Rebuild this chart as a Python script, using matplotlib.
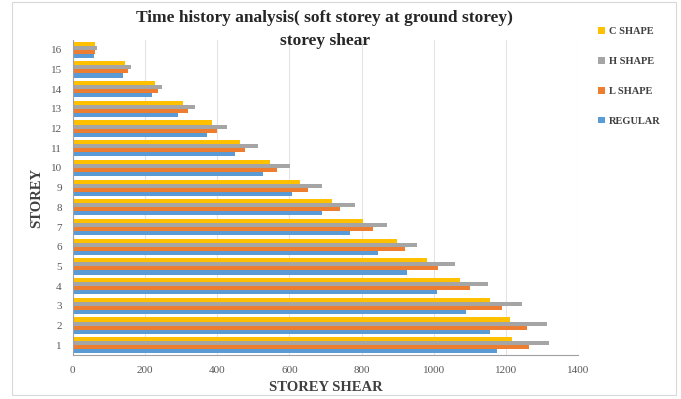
import numpy as np
import matplotlib.pyplot as plt
from matplotlib.patches import Rectangle

# storey shear per storey (storey 1 .. 16)
storeys = list(range(1, 17))
regular = [1175, 1155, 1090, 1008, 925, 845, 768, 690, 607, 527, 449, 371, 291, 219, 139, 58]
l_shape = [1265, 1258, 1190, 1100, 1012, 920, 832, 740, 652, 565, 477, 399, 319, 236, 152, 62]
h_shape = [1318, 1315, 1245, 1150, 1058, 953, 870, 782, 690, 602, 513, 427, 338, 247, 160, 66]
c_shape = [1218, 1210, 1155, 1073, 981, 898, 804, 718, 629, 546, 463, 385, 305, 227, 144, 60]

series = [("REGULAR", regular, "#5B9BD5"),
          ("L SHAPE", l_shape, "#ED7D31"),
          ("H SHAPE", h_shape, "#A5A5A5"),
          ("C SHAPE", c_shape, "#FFC000")]

serif = ["Liberation Serif", "DejaVu Serif"]

fig = plt.figure(figsize=(6.81, 3.99), dpi=100)
ax = fig.add_axes([0.107, 0.11, 0.742, 0.79])

y = np.array(storeys, dtype=float)
h = 0.205
for i, (name, vals, col) in enumerate(series):
    ax.barh(y + (i - 1.5) * h, vals, height=h, color=col, label=name, zorder=2)

ax.set_xlim(0, 1400)
ax.set_ylim(0.5, 16.5)
ax.set_xticks(range(0, 1401, 200))
ax.set_yticks(storeys)
ax.grid(axis="x", color="#E4E4E4", linewidth=0.8, zorder=0)
for s in ["top", "right"]:
    ax.spines[s].set_visible(False)
ax.spines["left"].set_color("#A0A0A0")
ax.spines["bottom"].set_color("#A0A0A0")
ax.tick_params(length=0, labelsize=8, labelcolor="#595959", pad=8)
for lab in ax.get_xticklabels() + ax.get_yticklabels():
    lab.set_family(serif)

ax.set_xlabel("STOREY SHEAR", family=serif, fontweight="bold", fontsize=10.5,
              color="#404040", labelpad=4)
ax.set_ylabel("STOREY", family=serif, fontweight="bold", fontsize=10.5,
              color="#404040", labelpad=5)

fig.text(0.477, 0.955, "Time history analysis( soft storey at ground storey)",
         ha="center", va="center", family=serif, fontweight="bold", fontsize=12.5,
         color="#262626")
fig.text(0.477, 0.898, "storey shear", ha="center", va="center", family=serif,
         fontweight="bold", fontsize=12.5, color="#262626")

handles, labels = ax.get_legend_handles_labels()
leg = fig.legend(handles[::-1], labels[::-1], loc="upper left",
                 bbox_to_anchor=(0.865, 0.955), frameon=False,
                 prop={"family": serif, "weight": "bold", "size": 7.5},
                 handlelength=0.6, handleheight=0.6, handletextpad=0.4,
                 labelspacing=2.0, labelcolor="#404040")

# light outer frame around the chart
fig.patches.append(Rectangle((0.018, 0.01), 0.975, 0.985, transform=fig.transFigure,
                             fill=False, edgecolor="#D9D9D9", linewidth=0.8))

fig.savefig("out.png", dpi=100)
